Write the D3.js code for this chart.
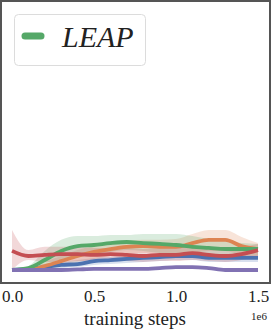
<!DOCTYPE html>
<html>
<head>
<meta charset="utf-8" />
<title>LEAP training curves</title>
<script src="https://d3js.org/d3.v7.min.js"></script>
<style>
  body { margin: 0; background: #fff; }
  svg { display: block; }
</style>
</head>
<body>
<div id="chart"></div>
<script>
// x: training steps, every 0.1e6
const steps = d3.range(16).map(i => i * 1e5);
const xTicks = [0, 0.5e6, 1.0e6, 1.5e6];
const legendLabels = ["LEAP"];

// mean curves and shaded bands (lower / upper)
const blueMean  = [0, 0.4, 1.1, 1.9, 2.2, 3.3, 3.7, 4.1, 4.5, 4.8, 5.2, 5.2, 4.5, 4.5, 4.5, 4.5];
const blueLo    = [0, 0, 0.4, 0.7, 1.1, 1.9, 2.2, 2.6, 3.0, 3.3, 3.7, 3.7, 3.0, 3.0, 3.0, 3.0];
const blueHi    = [0, 1.1, 2.2, 3.0, 3.7, 4.5, 4.8, 5.2, 5.6, 5.9, 6.3, 6.3, 5.6, 5.6, 5.6, 5.6];

const orangeMean = [0, 0, 1.5, 3.3, 5.2, 6.7, 7.8, 8.6, 8.9, 8.6, 8.6, 10.0, 11.2, 11.2, 8.9, 7.8];
const orangeLo   = [0, 0, 0.4, 1.5, 3.0, 4.1, 5.2, 5.9, 6.3, 5.9, 5.6, 6.3, 7.1, 7.1, 5.6, 5.2];
const orangeHi   = [0, 0, 3.0, 5.2, 7.4, 8.9, 10.0, 10.8, 11.2, 11.2, 11.5, 13.4, 14.9, 14.9, 12.3, 10.0];

const greenMean = [0, 0.7, 3.7, 7.1, 8.9, 9.3, 10.0, 10.4, 10.0, 9.7, 9.3, 8.6, 8.2, 7.8, 7.8, 7.8];
const greenLo   = [0, 0, 1.5, 3.7, 5.2, 5.9, 6.7, 7.4, 7.1, 6.3, 5.6, 4.8, 4.8, 4.8, 5.2, 5.6];
const greenHi   = [0, 1.5, 7.1, 11.2, 12.6, 12.6, 13.0, 13.0, 13.4, 13.4, 13.4, 12.6, 11.5, 10.8, 10.0, 9.7];

const redMean = [7.1, 5.2, 5.6, 5.9, 5.9, 5.6, 5.9, 5.6, 5.2, 5.6, 5.6, 6.3, 5.6, 5.2, 5.9, 7.4];
const redLo   = [0, 3.7, 3.0, 3.0, 3.3, 3.3, 3.3, 3.3, 3.0, 3.3, 3.3, 3.7, 3.3, 3.0, 3.7, 5.2];
const redHi   = [14.9, 7.4, 8.6, 8.6, 8.6, 8.2, 8.2, 8.2, 7.8, 8.2, 8.2, 8.9, 8.2, 7.8, 8.6, 9.7];

const purpleMean = [0, 0, 0, 0, 0.2, 0.4, 0.4, 0.4, 0.4, 0.7, 1.1, 1.1, 0.7, 0, 0, 0];
const purpleLo   = [-0.4, -0.4, -0.4, -0.4, -0.2, 0, 0, 0, 0, 0.3, 0.7, 0.7, 0.3, -0.4, -0.4, -0.4];
const purpleHi   = [0.4, 0.4, 0.4, 0.4, 0.6, 0.8, 0.8, 0.8, 0.8, 1.1, 1.5, 1.5, 1.1, 0.4, 0.4, 0.4];

const series = [
  { color: "#4c72b0", mean: blueMean, lo: blueLo, hi: blueHi },
  { color: "#dd8452", mean: orangeMean, lo: orangeLo, hi: orangeHi },
  { color: "#55a868", mean: greenMean, lo: greenLo, hi: greenHi },
  { color: "#c44e52", mean: redMean, lo: redLo, hi: redHi },
  { color: "#8172b3", mean: purpleMean, lo: purpleLo, hi: purpleHi }
];

const width = 272, height = 335;
const serif = "'Liberation Serif', 'DejaVu Serif', serif";

const svg = d3.select("#chart").append("svg")
  .attr("width", width)
  .attr("height", height);

const x = d3.scaleLinear().domain([0, 1.5e6]).range([12, 258]);
const y = d3.scaleLinear().domain([0, 100]).range([270, 1]);

// bands first, then lines
const area = d3.area()
  .x((d, i) => x(steps[i]))
  .y0(d => y(d[0]))
  .y1(d => y(d[1]))
  .curve(d3.curveMonotoneX);

const line = d3.line()
  .x((d, i) => x(steps[i]))
  .y(d => y(d))
  .curve(d3.curveMonotoneX);

svg.append("g").selectAll("path")
  .data(series)
  .enter()
  .append("path")
    .attr("d", s => area(s.lo.map((v, i) => [v, s.hi[i]])))
    .attr("fill", s => s.color)
    .attr("fill-opacity", 0.22);

svg.append("g").selectAll("path")
  .data(series)
  .enter()
  .append("path")
    .attr("d", s => line(s.mean))
    .attr("fill", "none")
    .attr("stroke", s => s.color)
    .attr("stroke-width", 3.8)
    .attr("stroke-linejoin", "round");

// frame
svg.append("rect")
  .attr("x", 1)
  .attr("y", 1)
  .attr("width", 269)
  .attr("height", 282)
  .attr("fill", "none")
  .attr("stroke", "#555")
  .attr("stroke-width", 2);

// x axis
const xAxis = svg.append("g")
  .attr("transform", "translate(0,283)")
  .call(d3.axisBottom(x)
    .tickValues(xTicks)
    .tickSize(0)
    .tickPadding(7.4)
    .tickFormat(d => d3.format(".1f")(d / 1e6)));
xAxis.select(".domain").remove();
xAxis.selectAll("text")
  .attr("fill", "#222")
  .style("font-family", serif)
  .style("font-size", "17px");

svg.append("text")
  .attr("x", 135)
  .attr("y", 324.5)
  .attr("text-anchor", "middle")
  .attr("fill", "#222")
  .style("font-family", serif)
  .style("font-size", "19px")
  .text("training steps");

svg.append("text")
  .attr("x", 267)
  .attr("y", 320)
  .attr("text-anchor", "end")
  .attr("fill", "#222")
  .style("font-family", serif)
  .style("font-size", "11px")
  .text("1e6");

// legend
const legend = svg.append("g");
legend.append("rect")
  .attr("x", 14.5)
  .attr("y", 14.5)
  .attr("width", 131)
  .attr("height", 51)
  .attr("rx", 4)
  .attr("fill", "#fff")
  .attr("stroke", "#dcdcdc")
  .attr("stroke-width", 1);
legend.append("line")
  .attr("x1", 25)
  .attr("x2", 41)
  .attr("y1", 36)
  .attr("y2", 36)
  .attr("stroke", series[2].color)
  .attr("stroke-width", 7)
  .attr("stroke-linecap", "round");
legend.append("text")
  .attr("x", 62)
  .attr("y", 47)
  .attr("fill", "#222")
  .style("font-family", serif)
  .style("font-style", "italic")
  .style("font-size", "30px")
  .text(legendLabels[0]);
</script>
</body>
</html>
